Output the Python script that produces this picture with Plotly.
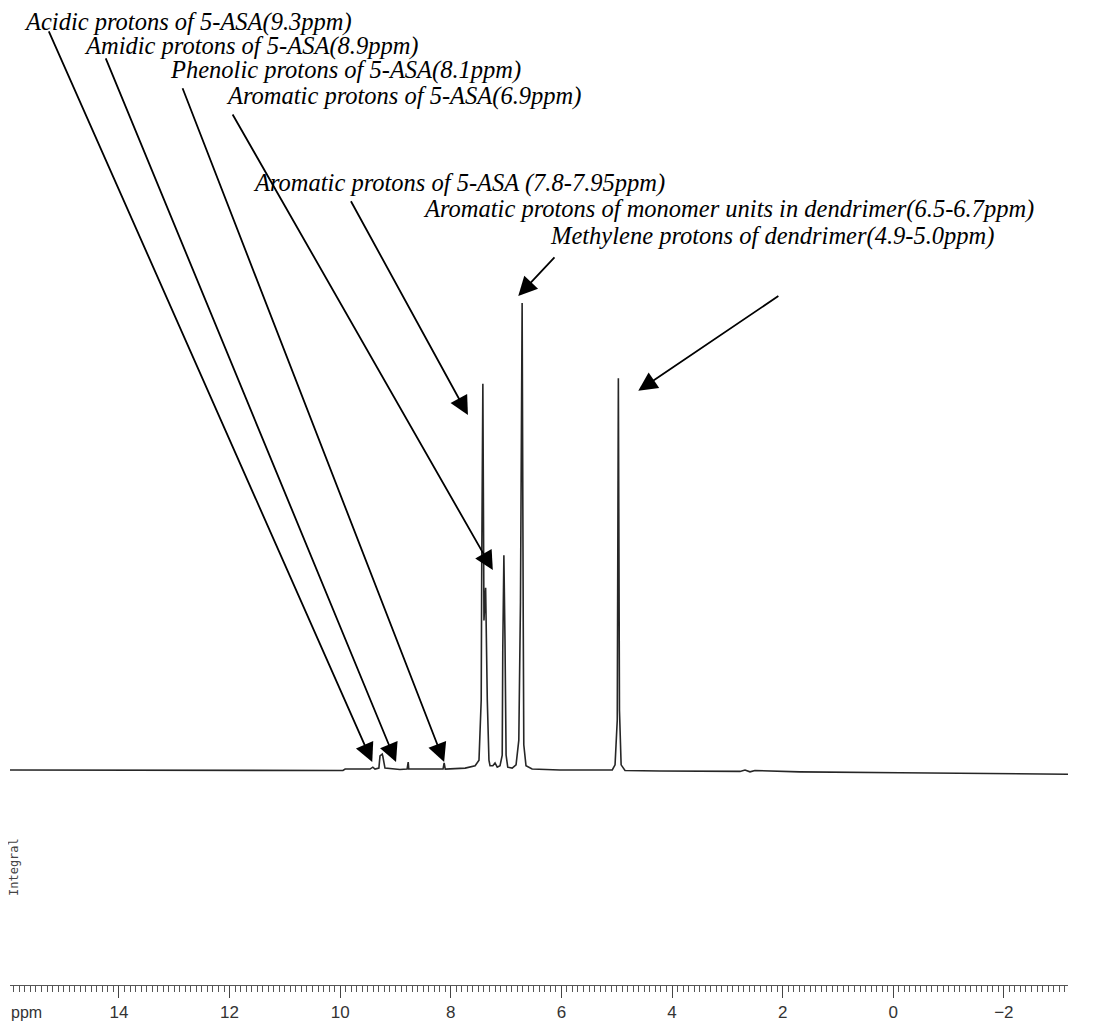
import plotly.graph_objects as go

# Spectrum vertices (chemical shift in ppm, relative intensity, tallest peak = 100)
ppm = [15.97, 12.54, 9.95, 9.91, 9.46, 9.41, 9.37, 9.30, 9.28, 9.24, 9.23, 9.19, 9.01, 8.92,
       8.79, 8.77, 8.76, 8.20, 8.14, 8.12, 8.10, 7.74, 7.56, 7.49, 7.45, 7.44, 7.42, 7.40,
       7.37, 7.34, 7.31, 7.29, 7.24, 7.20, 7.16, 7.11, 7.07, 7.06, 7.04, 7.02, 7.00, 6.97,
       6.89, 6.82, 6.77, 6.74, 6.71, 6.69, 6.68, 6.64, 6.53, 6.03, 5.30, 5.08, 5.03, 4.99,
       4.97, 4.95, 4.92, 4.85, 4.22, 2.77, 2.68, 2.59, 2.50, 1.69, -0.12, -1.93, -3.16]
intensity = [0.0, -0.1, -0.1, 0.2, 0.2, 0.6, 0.2, 0.4, 3.0, 3.4, 3.0, 0.4, 0.2, 0.1,
             0.2, 1.7, 0.2, 0.1, 0.2, 1.5, 0.2, 0.4, 0.9, 2.1, 15.0, 45.0, 82.7, 32.0,
             39.0, 15.0, 2.1, 0.9, 0.9, 1.5, 0.6, 0.9, 3.2, 25.7, 46.0, 27.8, 3.2, 0.6,
             0.4, 1.1, 6.4, 36.0, 100.0, 32.0, 5.4, 0.9, 0.2, 0.0, -0.1, 0.0, 1.1, 10.7,
             83.9, 12.8, 1.1, -0.1, -0.2, -0.3, 0.0, -0.4, -0.1, -0.4, -0.6, -0.7, -0.9]

# Annotation labels
labels = [
    "Acidic protons of 5-ASA(9.3ppm)",
    "Amidic protons of 5-ASA(8.9ppm)",
    "Phenolic protons of 5-ASA(8.1ppm)",
    "Aromatic protons of 5-ASA(6.9ppm)",
    "Aromatic protons of 5-ASA (7.8-7.95ppm)",
    "Aromatic protons of monomer units in dendrimer(6.5-6.7ppm)",
    "Methylene protons of dendrimer(4.9-5.0ppm)",
]
# Arrow heads (ppm, intensity) and tails (ppm, intensity)
head_ppm = [9.42, 8.99, 8.12, 7.24, 7.69, 6.78, 4.61]
head_int = [1.7, 1.7, 1.7, 42.8, 76.0, 101.5, 81.2]
tail_ppm = [15.28, 14.25, 12.86, 11.96, 9.82, 6.10, 2.05]
tail_int = [158.5, 152.7, 146.3, 140.7, 122.1, 110.1, 101.7]

OFF = 8                      # page body margin
W, H = 1093 - OFF, 1028 - OFF
PLOT_H = 985 - OFF
# text anchor positions on the page (left x px, centre y px)
text_pos = [(22, 22), (82, 46), (168, 70), (224, 96), (251, 183), (421, 209), (548, 236)]

fig = go.Figure()
fig.add_trace(go.Scatter(x=ppm, y=intensity, mode="lines",
                         line=dict(color="#262626", width=1.6), hoverinfo="skip",
                         showlegend=False))

annotations = []
for i, lab in enumerate(labels):
    annotations.append(dict(
        x=head_ppm[i], y=head_int[i], xref="x", yref="y",
        ax=tail_ppm[i], ay=tail_int[i], axref="x", ayref="y",
        text="", showarrow=True, arrowhead=2, arrowsize=2.1, arrowwidth=1.8,
        arrowcolor="black", standoff=0, startstandoff=0))
    px, py = text_pos[i]
    annotations.append(dict(
        x=(px - OFF) / W, y=(PLOT_H - (py - OFF)) / PLOT_H, xref="paper", yref="paper",
        xanchor="left", yanchor="middle", showarrow=False, text=f"<i>{lab}</i>",
        font=dict(family="Liberation Serif", size=24.5, color="black")))

annotations.append(dict(x=(9 - OFF) / W, y=(PLOT_H - (1012 - OFF)) / PLOT_H,
                        xref="paper", yref="paper",
                        xanchor="left", yanchor="middle", showarrow=False, text="ppm",
                        font=dict(family="Liberation Sans Narrow, Liberation Sans", size=16,
                                  color="#333")))
annotations.append(dict(x=(14 - OFF) / W, y=(PLOT_H - (867 - OFF)) / PLOT_H,
                        xref="paper", yref="paper",
                        xanchor="center", yanchor="middle", showarrow=False, text="Integral",
                        textangle=-90,
                        font=dict(family="DejaVu Sans Mono", size=12, color="#444")))

fig.update_layout(
    width=W, height=H,
    margin=dict(l=0, r=0, t=0, b=H - PLOT_H),
    paper_bgcolor="white", plot_bgcolor="white",
    showlegend=False,
    annotations=annotations,
    xaxis=dict(
        domain=[(10 - OFF) / W, (1068 - OFF) / W],
        range=[15.97, -3.16],
        showgrid=False, zeroline=False,
        showline=True, linecolor="#555", linewidth=1,
        ticks="outside", ticklen=12, tickwidth=1, tickcolor="#444",
        tickmode="linear", tick0=0, dtick=2,
        minor=dict(ticks="outside", ticklen=6, tickwidth=1, tickcolor="#555", dtick=0.1,
                   showgrid=False),
        tickfont=dict(family="Liberation Sans Narrow, Liberation Sans", size=17, color="#333"),
    ),
    yaxis=dict(range=[(770 - 985) / 4.67, (770 - OFF) / 4.67], visible=False,
               showgrid=False, zeroline=False),
)

fig.write_html("out.html")
